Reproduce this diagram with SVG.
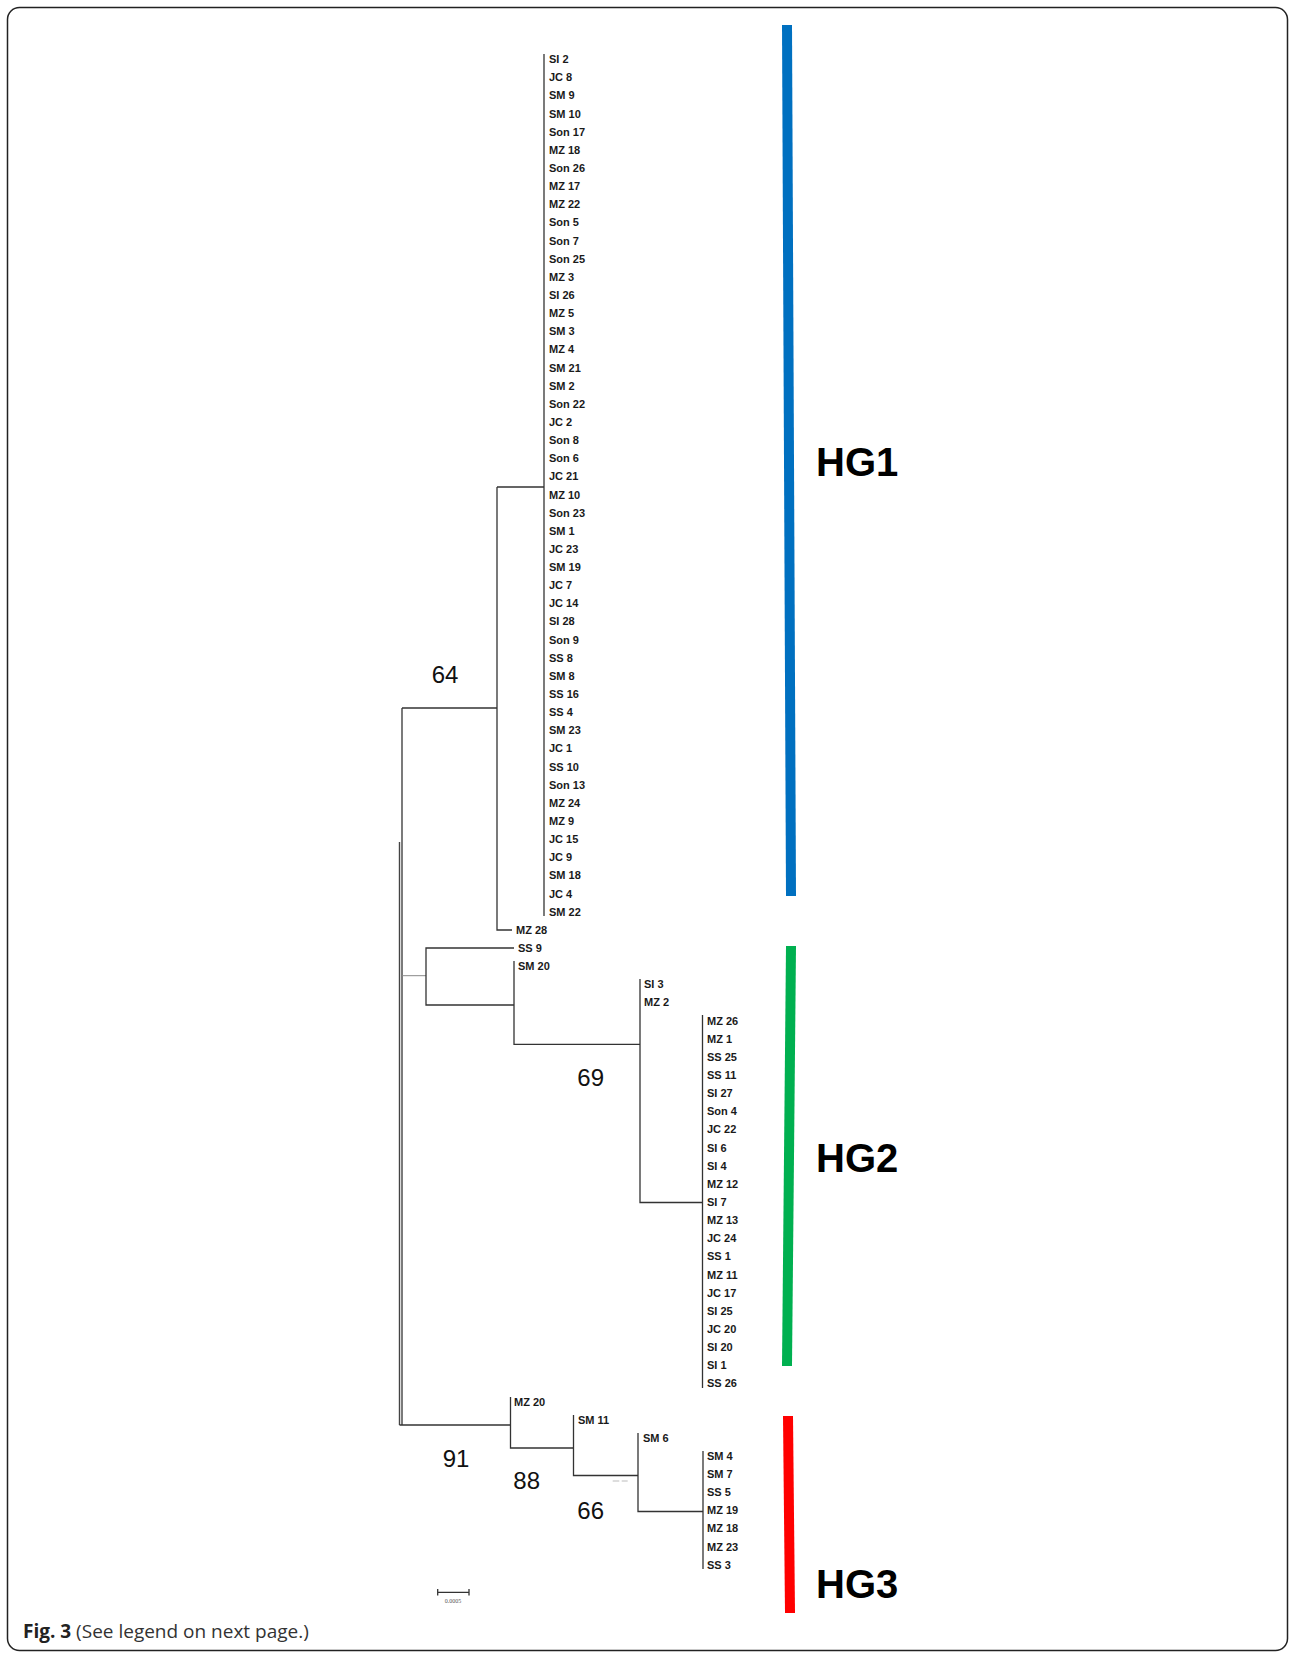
<svg xmlns="http://www.w3.org/2000/svg" width="1290" height="1654" viewBox="0 0 1290 1654">
<style>
.lf{font-family:"Liberation Sans",Arial,sans-serif;font-size:11px;font-weight:bold;fill:#1a1a1a}
.bs{font-family:"Liberation Sans",Arial,sans-serif;font-size:24px;fill:#111}
.hg{font-family:"Liberation Sans",Arial,sans-serif;font-size:40px;font-weight:bold;fill:#000}
.br{fill:none;stroke:#333;stroke-width:1.3}
.cap{font-family:"Open Sans","Liberation Sans",sans-serif;font-size:19px;fill:#333}
</style>
<rect x="7.5" y="7.5" width="1280" height="1643" rx="12" fill="#fff" stroke="#222" stroke-width="1.5"/>
<g id="connectors">
<path class="br" d="M544 54V916"/>
<path class="br" d="M497 487H544M497 487V930H512"/>
<path class="br" d="M402 708H497"/>
<path class="br" d="M402 708V1425"/>
<path d="M399.5 842V1425" stroke="#444" stroke-width="1.4" fill="none"/>
<path d="M402 975.7H426" stroke="#888" stroke-width="1" fill="none"/>
<path class="br" d="M514 948H426V1005H514"/>
<path class="br" d="M514 961V1044.3H640"/>
<path class="br" d="M640 979V1202.5H702.5"/>
<path class="br" d="M702.5 1015V1388"/>
<path class="br" d="M399.5 1425H510.5"/>
<path class="br" d="M510.5 1397V1448H573.5"/>
<path class="br" d="M573.5 1415V1475.5H638"/>
<path class="br" d="M638 1433V1511.5H703"/>
<path class="br" d="M703 1451V1569"/>
<path d="M612.7 1481H619.3M621.7 1481H627.7" stroke="#bbb" stroke-width="1" fill="none"/>
<path class="br" d="M437.7 1592.3H469M437.7 1589V1595.5M469 1589V1595.5"/>
<text x="453" y="1602.5" font-family="Liberation Serif,serif" font-size="6px" fill="#555" text-anchor="middle">0.0005</text>
</g>
<g id="bootstrap">
<text class="bs" x="445" y="682.6" text-anchor="middle">64</text>
<text class="bs" x="590.7" y="1085.6" text-anchor="middle">69</text>
<text class="bs" x="456" y="1467" text-anchor="middle">91</text>
<text class="bs" x="526.7" y="1489" text-anchor="middle">88</text>
<text class="bs" x="590.7" y="1518.5" text-anchor="middle">66</text>
</g>
<g id="HG1"><polygon points="782,25 792,25 796,896 786,896" fill="#0070C0"/><text class="hg" x="816" y="476">HG1</text></g>
<g id="HG2"><polygon points="786,946 796,946 792,1366 782,1366" fill="#00B050"/><text class="hg" x="816" y="1172">HG2</text></g>
<g id="HG3"><polygon points="783,1416 793,1416 795,1613 785,1613" fill="#FF0000"/><text class="hg" x="816" y="1598">HG3</text></g>
<g id="leaves-HG1">
<g id="n0"><text class="lf" x="549" y="63.1">SI 2</text></g>
<g id="n1"><text class="lf" x="549" y="81.2">JC 8</text></g>
<g id="n2"><text class="lf" x="549" y="99.4">SM 9</text></g>
<g id="n3"><text class="lf" x="549" y="117.5">SM 10</text></g>
<g id="n4"><text class="lf" x="549" y="135.7">Son 17</text></g>
<g id="n5"><text class="lf" x="549" y="153.8">MZ 18</text></g>
<g id="n6"><text class="lf" x="549" y="171.9">Son 26</text></g>
<g id="n7"><text class="lf" x="549" y="190.1">MZ 17</text></g>
<g id="n8"><text class="lf" x="549" y="208.2">MZ 22</text></g>
<g id="n9"><text class="lf" x="549" y="226.4">Son 5</text></g>
<g id="n10"><text class="lf" x="549" y="244.5">Son 7</text></g>
<g id="n11"><text class="lf" x="549" y="262.6">Son 25</text></g>
<g id="n12"><text class="lf" x="549" y="280.8">MZ 3</text></g>
<g id="n13"><text class="lf" x="549" y="298.9">SI 26</text></g>
<g id="n14"><text class="lf" x="549" y="317.1">MZ 5</text></g>
<g id="n15"><text class="lf" x="549" y="335.2">SM 3</text></g>
<g id="n16"><text class="lf" x="549" y="353.3">MZ 4</text></g>
<g id="n17"><text class="lf" x="549" y="371.5">SM 21</text></g>
<g id="n18"><text class="lf" x="549" y="389.6">SM 2</text></g>
<g id="n19"><text class="lf" x="549" y="407.8">Son 22</text></g>
<g id="n20"><text class="lf" x="549" y="425.9">JC 2</text></g>
<g id="n21"><text class="lf" x="549" y="444.0">Son 8</text></g>
<g id="n22"><text class="lf" x="549" y="462.2">Son 6</text></g>
<g id="n23"><text class="lf" x="549" y="480.3">JC 21</text></g>
<g id="n24"><text class="lf" x="549" y="498.5">MZ 10</text></g>
<g id="n25"><text class="lf" x="549" y="516.6">Son 23</text></g>
<g id="n26"><text class="lf" x="549" y="534.7">SM 1</text></g>
<g id="n27"><text class="lf" x="549" y="552.9">JC 23</text></g>
<g id="n28"><text class="lf" x="549" y="571.0">SM 19</text></g>
<g id="n29"><text class="lf" x="549" y="589.2">JC 7</text></g>
<g id="n30"><text class="lf" x="549" y="607.3">JC 14</text></g>
<g id="n31"><text class="lf" x="549" y="625.4">SI 28</text></g>
<g id="n32"><text class="lf" x="549" y="643.6">Son 9</text></g>
<g id="n33"><text class="lf" x="549" y="661.7">SS 8</text></g>
<g id="n34"><text class="lf" x="549" y="679.9">SM 8</text></g>
<g id="n35"><text class="lf" x="549" y="698.0">SS 16</text></g>
<g id="n36"><text class="lf" x="549" y="716.1">SS 4</text></g>
<g id="n37"><text class="lf" x="549" y="734.3">SM 23</text></g>
<g id="n38"><text class="lf" x="549" y="752.4">JC 1</text></g>
<g id="n39"><text class="lf" x="549" y="770.6">SS 10</text></g>
<g id="n40"><text class="lf" x="549" y="788.7">Son 13</text></g>
<g id="n41"><text class="lf" x="549" y="806.8">MZ 24</text></g>
<g id="n42"><text class="lf" x="549" y="825.0">MZ 9</text></g>
<g id="n43"><text class="lf" x="549" y="843.1">JC 15</text></g>
<g id="n44"><text class="lf" x="549" y="861.3">JC 9</text></g>
<g id="n45"><text class="lf" x="549" y="879.4">SM 18</text></g>
<g id="n46"><text class="lf" x="549" y="897.5">JC 4</text></g>
<g id="n47"><text class="lf" x="549" y="915.7">SM 22</text></g>
</g>
<g id="leaves-mid">
<g id="n48"><text class="lf" x="516" y="933.8">MZ 28</text></g>
<g id="n49"><text class="lf" x="518" y="952.0">SS 9</text></g>
<g id="n50"><text class="lf" x="518" y="970.1">SM 20</text></g>
<g id="n51"><text class="lf" x="644" y="988.2">SI 3</text></g>
<g id="n52"><text class="lf" x="644" y="1006.4">MZ 2</text></g>
</g>
<g id="leaves-HG2">
<g id="n53"><text class="lf" x="707" y="1024.5">MZ 26</text></g>
<g id="n54"><text class="lf" x="707" y="1042.7">MZ 1</text></g>
<g id="n55"><text class="lf" x="707" y="1060.8">SS 25</text></g>
<g id="n56"><text class="lf" x="707" y="1078.9">SS 11</text></g>
<g id="n57"><text class="lf" x="707" y="1097.1">SI 27</text></g>
<g id="n58"><text class="lf" x="707" y="1115.2">Son 4</text></g>
<g id="n59"><text class="lf" x="707" y="1133.4">JC 22</text></g>
<g id="n60"><text class="lf" x="707" y="1151.5">SI 6</text></g>
<g id="n61"><text class="lf" x="707" y="1169.6">SI 4</text></g>
<g id="n62"><text class="lf" x="707" y="1187.8">MZ 12</text></g>
<g id="n63"><text class="lf" x="707" y="1205.9">SI 7</text></g>
<g id="n64"><text class="lf" x="707" y="1224.1">MZ 13</text></g>
<g id="n65"><text class="lf" x="707" y="1242.2">JC 24</text></g>
<g id="n66"><text class="lf" x="707" y="1260.3">SS 1</text></g>
<g id="n67"><text class="lf" x="707" y="1278.5">MZ 11</text></g>
<g id="n68"><text class="lf" x="707" y="1296.6">JC 17</text></g>
<g id="n69"><text class="lf" x="707" y="1314.8">SI 25</text></g>
<g id="n70"><text class="lf" x="707" y="1332.9">JC 20</text></g>
<g id="n71"><text class="lf" x="707" y="1351.0">SI 20</text></g>
<g id="n72"><text class="lf" x="707" y="1369.2">SI 1</text></g>
<g id="n73"><text class="lf" x="707" y="1387.3">SS 26</text></g>
</g>
<g id="leaves-HG3">
<g id="n74"><text class="lf" x="514" y="1405.5">MZ 20</text></g>
<g id="n75"><text class="lf" x="578" y="1423.6">SM 11</text></g>
<g id="n76"><text class="lf" x="643" y="1441.7">SM 6</text></g>
<g id="n77"><text class="lf" x="707" y="1459.9">SM 4</text></g>
<g id="n78"><text class="lf" x="707" y="1478.0">SM 7</text></g>
<g id="n79"><text class="lf" x="707" y="1496.2">SS 5</text></g>
<g id="n80"><text class="lf" x="707" y="1514.3">MZ 19</text></g>
<g id="n81"><text class="lf" x="707" y="1532.4">MZ 18</text></g>
<g id="n82"><text class="lf" x="707" y="1550.6">MZ 23</text></g>
<g id="n83"><text class="lf" x="707" y="1568.7">SS 3</text></g>
</g>
<g id="caption"><text class="cap" x="23" y="1638"><tspan font-weight="bold" fill="#222">Fig. 3</tspan> (See legend on next page.)</text></g>
</svg>
